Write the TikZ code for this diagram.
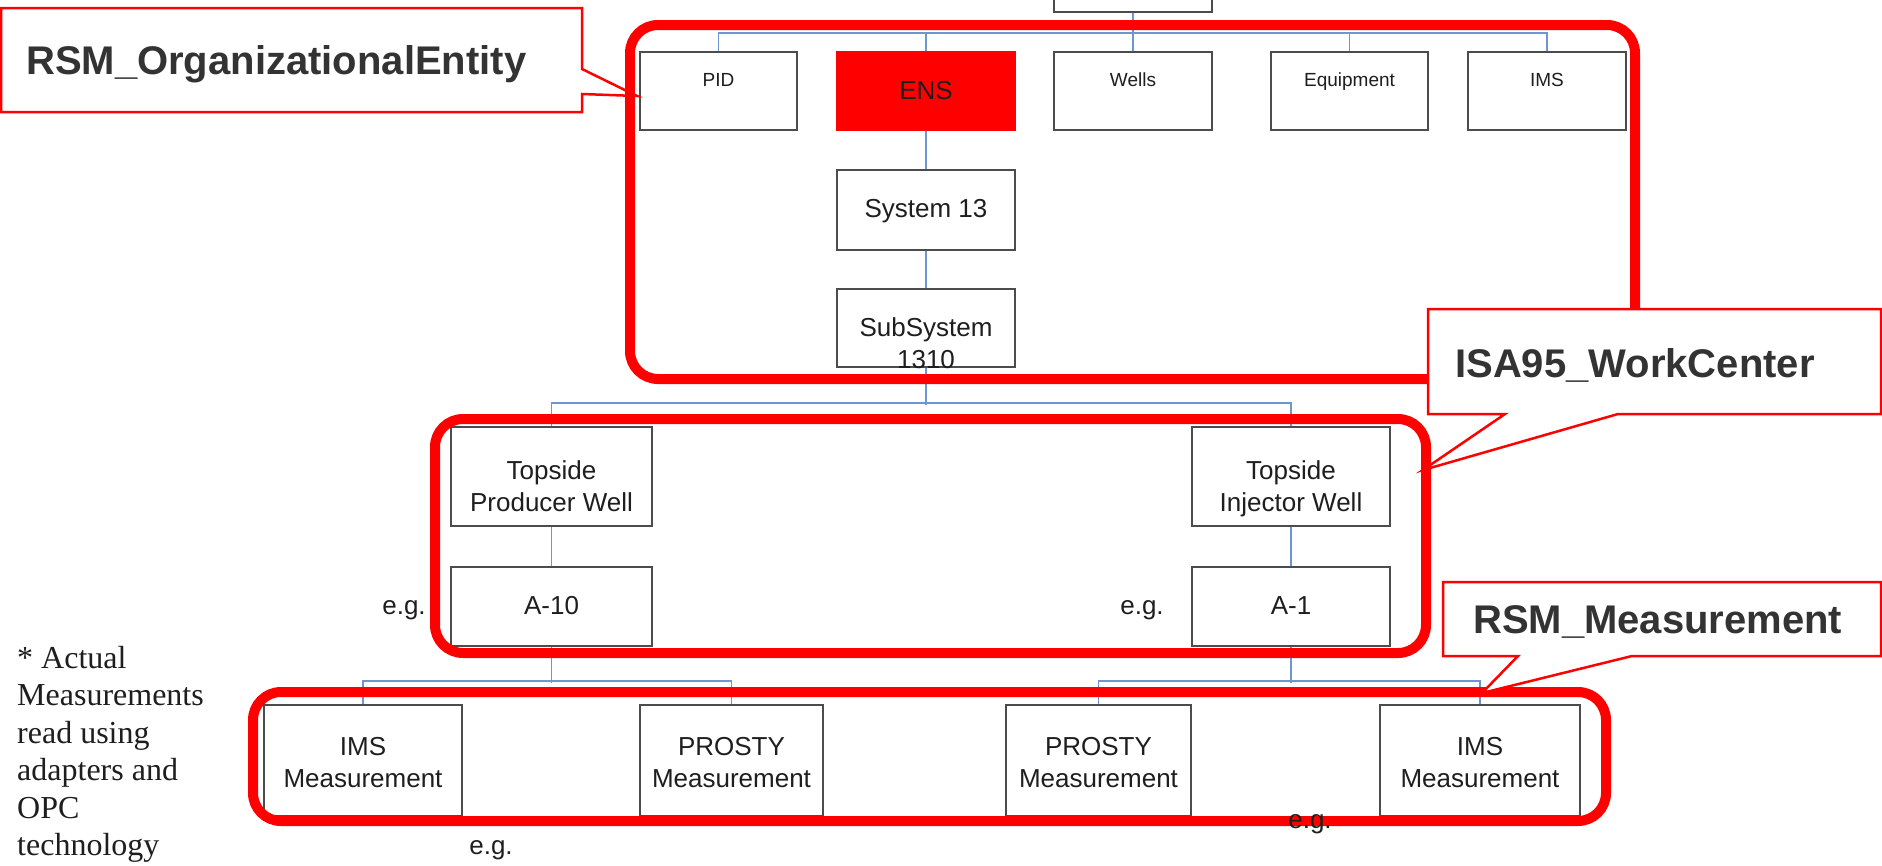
\documentclass[tikz,border=0pt]{standalone}
\usepackage{fontspec}
\setmainfont{Liberation Sans}
\newfontfamily\notefont{Liberation Serif}
\definecolor{linkblue}{RGB}{110,150,210}
\definecolor{grouped}{RGB}{255,0,0}
\definecolor{ink}{RGB}{30,30,30}
\definecolor{capink}{RGB}{51,51,51}
\begin{document}
\begin{tikzpicture}[x=1pt,y=-1pt,
  unit/.style={rectangle, draw=black!70, fill=white, line width=1.6pt, inner sep=0pt},
  link/.style={draw=linkblue, line width=1.8pt},
  group/.style={draw=grouped, line width=10pt, rounded corners=28pt},
  callout/.style={draw=grouped, fill=white, line width=2.5pt, line join=miter},
  captxt/.style={font=\fontsize{40}{48}\selectfont\bfseries, text=capink, anchor=base west, inner sep=0pt},
  lbl/.style={font=\fontsize{26}{32}\selectfont, text=ink, anchor=base, inner sep=0pt, align=center},
  smalllbl/.style={font=\fontsize{19}{23}\selectfont, text=ink, anchor=base, inner sep=0pt},
  note/.style={font=\notefont\fontsize{32}{37.5}\selectfont, text=ink, align=left, inner sep=0pt, anchor=north west}]
\clip (0,0) rectangle (1882,865);
\fill[white] (0,0) rectangle (1882,865);

% ---------- boxes ----------
\node[unit, minimum width=158pt, minimum height=40pt] (root) at (1133,-8) {};
\node[unit, minimum width=157pt, minimum height=78pt] (pid) at (718.5,91) {};
\node[unit, draw=grouped, fill=grouped, minimum width=178pt, minimum height=78pt] (ens) at (926,91) {};
\node[unit, minimum width=158pt, minimum height=78pt] (wells) at (1133,91) {};
\node[unit, minimum width=157pt, minimum height=78pt] (equip) at (1349.5,91) {};
\node[unit, minimum width=158pt, minimum height=78pt] (ims) at (1547,91) {};
\node[unit, minimum width=178pt, minimum height=80pt] (sys) at (926,210) {};
\node[unit, minimum width=178pt, minimum height=78pt] (sub) at (926,328) {};
\node[unit, minimum width=201pt, minimum height=99pt] (prod) at (551.5,476.5) {};
\node[unit, minimum width=198pt, minimum height=99pt] (inj) at (1291,476.5) {};
\node[unit, minimum width=201pt, minimum height=79pt] (a10) at (551.5,606.5) {};
\node[unit, minimum width=198pt, minimum height=79pt] (a1) at (1291,606.5) {};
\node[unit, minimum width=198pt, minimum height=111pt] (imsA) at (363,760.5) {};
\node[unit, minimum width=183pt, minimum height=111pt] (prostyA) at (731.5,760.5) {};
\node[unit, minimum width=185pt, minimum height=111pt] (prostyB) at (1098.5,760.5) {};
\node[unit, minimum width=200pt, minimum height=111pt] (imsB) at (1480,760.5) {};

% ---------- connectors ----------
\draw[link] (root.south) -- (wells.north);
\draw[link] (pid.north) -- ++(0,-18) -| (ims.north);
\draw[link] (ens.north) -- ++(0,-18);
\draw[link] (equip.north) -- ++(0,-18);
\draw[link] (ens.south) -- (sys.north);
\draw[link] (sys.south) -- (sub.north);
\draw[link] (sub.south) -- ++(0,37);
\draw[link] (prod.north) -- ++(0,-23) -| (inj.north);
\draw[link] (prod.south) -- (a10.north);
\draw[link] (inj.south) -- (a1.north);
\draw[link] (a10.south) -- ++(0,36);
\draw[link] (imsA.north) -- ++(0,-23) -| (prostyA.north);
\draw[link] (a1.south) -- ++(0,36);
\draw[link] (prostyB.north) -- ++(0,-23) -| (imsB.north);

% ---------- box labels (base = last line) ----------
\node[smalllbl] (pidt) at (718.5,86) {PID};
\node[lbl] (enst) at (926,99) {ENS};
\node[smalllbl] (wellst) at (1133,86) {Wells};
\node[smalllbl] (equipt) at (1349.5,86) {Equipment};
\node[smalllbl] (imst) at (1547,86) {IMS};
\node[lbl] (syst) at (926,217) {System 13};
\node[lbl] (subt) at (926,368) {SubSystem\\1310};
\node[lbl] (prodt) at (551.5,511) {Topside\\Producer Well};
\node[lbl] (injt) at (1291,511) {Topside\\Injector Well};
\node[lbl] (a10t) at (551.5,614) {A-10};
\node[lbl] (a1t) at (1291,614) {A-1};
\node[lbl] (imsAt) at (363,787) {IMS\\Measurement};
\node[lbl] (prostyAt) at (731.5,787) {PROSTY\\Measurement};
\node[lbl] (prostyBt) at (1098.5,787) {PROSTY\\Measurement};
\node[lbl] (imsBt) at (1480,787) {IMS\\Measurement};

% ---------- example markers ----------
\node[lbl] (eg1) at (404,614) {e.g.};
\node[lbl] (eg2) at (1142,614) {e.g.};
\node[lbl] (eg3) at (491,854) {e.g.};

% ---------- callout: organizational entity ----------
\draw[callout] (1,8) -- (582,8) -- (582,69) -- (637,96) -- (582,94) -- (582,112) -- (1,112) -- cycle;
\node[captxt] (orgcap) at (26,74) {RSM\_OrganizationalEntity};

% ---------- grouping frames ----------
\draw[group] (630,25) rectangle (1635,379);
\draw[group] (435,419) rectangle (1426,653);
\draw[group] (253,692) rectangle (1606,821);

\node[lbl] (eg4) at (1310,828) {e.g.};

% ---------- callouts: work center and measurement ----------
\draw[callout] (1428,309) -- (1881,309) -- (1881,414) -- (1618,414) -- (1423,470) -- (1505,414) -- (1428,414) -- cycle;
\node[captxt] (wccap) at (1455,377) {ISA95\_WorkCenter};
\draw[callout] (1443,582) -- (1881,582) -- (1881,656) -- (1632,656) -- (1482,693) -- (1518,656) -- (1443,656) -- cycle;
\node[captxt] (meascap) at (1473,633) {RSM\_Measurement};

% ---------- side note ----------
\node[note] (sidenote) at (17,646) {* Actual\\Measurements\\read using\\adapters and\\OPC\\technology};
\end{tikzpicture}
\end{document}
